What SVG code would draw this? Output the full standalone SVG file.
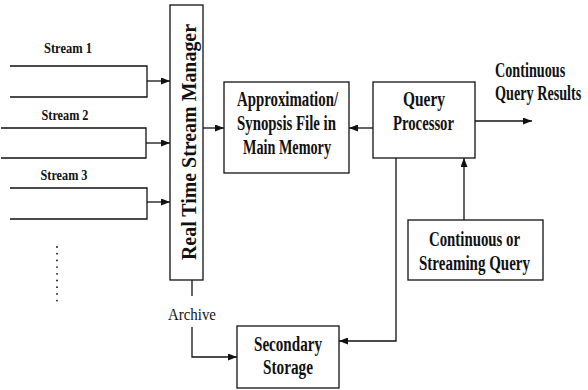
<svg xmlns="http://www.w3.org/2000/svg" width="588" height="390" viewBox="0 0 588 390">
  <style>
    .box { fill: #fff; stroke: #111; stroke-width: 1.3; }
    .wire { fill: none; stroke: #111; stroke-width: 1.3; }
    .lbl { font-family: "Liberation Serif", "Times New Roman", serif; font-weight: bold; font-size: 20px; text-anchor: middle; fill: #111; }
    .start { text-anchor: start; }
    .small { font-size: 15px; }
    .plain { font-family: "Liberation Serif", "Times New Roman", serif; font-size: 17px; text-anchor: middle; fill: #111; }
  </style>
  <defs>
    <marker id="arrow" viewBox="0 0 9 7" refX="9" refY="3.5" markerWidth="9" markerHeight="7" markerUnits="userSpaceOnUse" orient="auto">
      <path d="M0,0 L9,3.5 L0,7 z" fill="#111"/>
    </marker>
  </defs>
  <rect width="588" height="390" fill="#fff"/>

  <!-- input stream buffers -->
  <g id="stream1">
    <path class="wire" d="M10,66 H147 V97 H10"/>
    <text class="lbl small" x="68" y="53" textLength="48" lengthAdjust="spacingAndGlyphs">Stream 1</text>
  </g>
  <g id="stream2">
    <path class="wire" d="M1,128 H146 V158 H1"/>
    <text class="lbl small" x="65" y="120" textLength="47" lengthAdjust="spacingAndGlyphs">Stream 2</text>
  </g>
  <g id="stream3">
    <path class="wire" d="M10,188 H147 V219 H10"/>
    <text class="lbl small" x="64" y="180" textLength="47" lengthAdjust="spacingAndGlyphs">Stream 3</text>
  </g>
  <g id="more-streams" fill="#111">
    <circle cx="57" cy="247" r="0.9"/>
    <circle cx="57" cy="253.7" r="0.9"/>
    <circle cx="57" cy="260.4" r="0.9"/>
    <circle cx="57" cy="267.1" r="0.9"/>
    <circle cx="57" cy="273.8" r="0.9"/>
    <circle cx="57" cy="280.5" r="0.9"/>
    <circle cx="57" cy="287.2" r="0.9"/>
    <circle cx="57" cy="293.9" r="0.9"/>
    <circle cx="57" cy="300.6" r="0.9"/>
  </g>

  <!-- nodes -->
  <g id="stream-manager">
    <rect class="box" x="170" y="5" width="33" height="275"/>
    <text class="lbl" transform="translate(195.5,142) rotate(-90)" x="0" y="0" font-size="21" textLength="236" lengthAdjust="spacingAndGlyphs">Real Time Stream Manager</text>
  </g>
  <g id="synopsis">
    <rect class="box" x="224" y="82" width="125" height="91"/>
    <text class="lbl" x="287.5" y="106" textLength="101" lengthAdjust="spacingAndGlyphs">Approximation/</text>
    <text class="lbl" x="286.5" y="130" textLength="99" lengthAdjust="spacingAndGlyphs">Synopsis File in</text>
    <text class="lbl" x="287" y="154" textLength="88" lengthAdjust="spacingAndGlyphs">Main Memory</text>
  </g>
  <g id="query-processor">
    <rect class="box" x="373" y="82" width="102" height="76"/>
    <text class="lbl" x="424" y="106" textLength="42" lengthAdjust="spacingAndGlyphs">Query</text>
    <text class="lbl" x="423.5" y="130" textLength="61" lengthAdjust="spacingAndGlyphs">Processor</text>
  </g>
  <!-- output label, narrowed so it ends at the right margin -->
  <g id="results" transform="translate(495,0) scale(0.71,1)">
    <text class="lbl start" x="0" y="77">Continuous</text>
    <text class="lbl start" x="0" y="100">Query Results</text>
  </g>
  <g id="continuous-query">
    <rect class="box" x="408" y="220" width="135" height="60"/>
    <text class="lbl" x="474.5" y="246" textLength="91" lengthAdjust="spacingAndGlyphs">Continuous or</text>
    <text class="lbl" x="474.5" y="270" textLength="111" lengthAdjust="spacingAndGlyphs">Streaming Query</text>
  </g>
  <g id="secondary-storage">
    <rect class="box" x="237" y="326" width="102" height="62"/>
    <text class="lbl" x="288" y="351" textLength="68" lengthAdjust="spacingAndGlyphs">Secondary</text>
    <text class="lbl" x="288" y="374" textLength="50" lengthAdjust="spacingAndGlyphs">Storage</text>
  </g>
  <g id="archive-label">
    <text class="plain" x="192" y="320" textLength="48" lengthAdjust="spacingAndGlyphs">Archive</text>
  </g>

  <!-- connectors -->
  <g id="connectors">
    <path class="wire" d="M147,81 H170" marker-end="url(#arrow)"/>
    <path class="wire" d="M146,143 H170" marker-end="url(#arrow)"/>
    <path class="wire" d="M147,202 H170" marker-end="url(#arrow)"/>
    <path class="wire" d="M203,128 H224" marker-end="url(#arrow)"/>
    <path class="wire" d="M373,128 H349" marker-end="url(#arrow)"/>
    <path class="wire" d="M475,121 H532" marker-end="url(#arrow)"/>
    <path class="wire" d="M464,220 V158" marker-end="url(#arrow)"/>
    <path class="wire" d="M396,158 V341 H339" marker-end="url(#arrow)"/>
    <path class="wire" d="M192,280 V296"/>
    <path class="wire" d="M192,327 V357 H237" marker-end="url(#arrow)"/>
  </g>
</svg>
